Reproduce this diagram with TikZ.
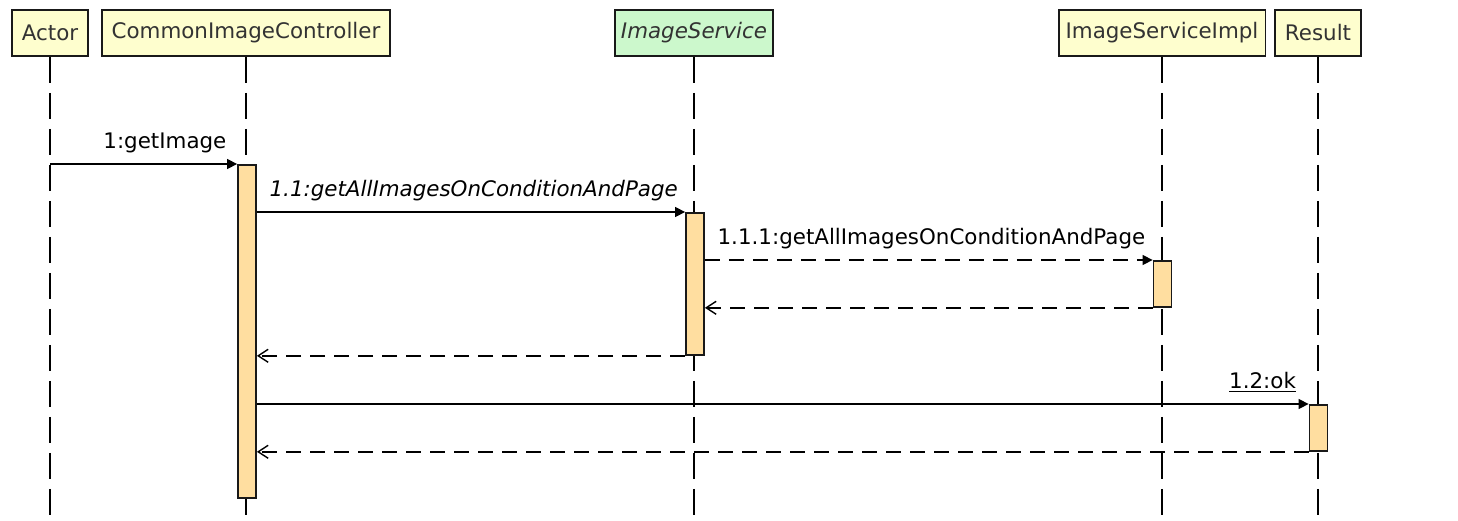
\documentclass[tikz,border=0pt]{standalone}
\usepackage{fontspec}
\setmainfont{DejaVu Sans}
\usepackage{xcolor}
\usetikzlibrary{arrows.meta, positioning}
\definecolor{headfill}{HTML}{FEFECE}
\definecolor{ifacefill}{HTML}{CCF8CC}
\definecolor{barfill}{HTML}{FFDEA0}
\definecolor{ink}{HTML}{333333}

\begin{document}
\begin{tikzpicture}[x=0.5pt, y=-0.5pt,
    head/.style={draw=black!90, line width=0.9pt, fill=headfill, text=ink,
        minimum height=23pt, inner xsep=5pt, font=\fontsize{10.7}{13}\selectfont},
    life/.style={line width=0.9pt, dash pattern=on 13pt off 5pt},
    bar/.style={draw=black!90, line width=0.9pt, fill=barfill, minimum width=9pt,
        inner sep=0pt, anchor=north},
    call/.style={line width=0.7pt, -{Triangle[length=5pt,width=5pt]}},
    dcall/.style={call, dash pattern=on 7.5pt off 4.5pt},
    ret/.style={line width=0.7pt, dash pattern=on 7.5pt off 4.5pt,
        -{Straight Barb[length=5pt,width=6.5pt]}},
    msg/.style={font=\fontsize{10.7}{13}\selectfont, inner sep=0pt}]
    \useasboundingbox (0,0) rectangle (1458,520);

    \node[head]                                (actor) at (50,33)   {Actor};
    \node[head]                                (ctrl)  at (246,33)  {CommonImageController};
    \node[head, fill=ifacefill, inner xsep=3pt, font=\fontsize{10.7}{13}\selectfont\itshape]
                                               (svc)   at (694,33)  {ImageService};
    \node[head, inner xsep=3.5pt]              (impl)  at (1162,33) {ImageServiceImpl};
    \node[head]                                (res)   at (1318,33) {Result};

    \coordinate (bot) at (0,515);
    \foreach \p in {actor, ctrl, svc, impl, res}
        \draw[life] (\p.south) -- (\p |- bot);

    \node[bar, minimum height=166.5pt] (ctrlbar) at (247,164)    {};
    \node[bar, minimum height=71pt]    (svcbar)  at (695,212)    {};
    \node[bar, minimum height=23pt]    (implbar) at (1162.5,260) {};
    \node[bar, minimum height=23pt]    (resbar)  at (1318.5,404) {};

    \draw
        (actor |- ctrlbar.north) edge[call] node[msg, pos=1, anchor=base east, xshift=-5pt, yshift=8pt]
            {1:getImage} (ctrlbar.north west)
        (ctrlbar.east |- svcbar.north) edge[call] node[msg, pos=0, anchor=base west, xshift=6pt, yshift=8pt]
            {\itshape 1.1:getAllImagesOnConditionAndPage} (svcbar.north west)
        (svcbar.east |- implbar.north) edge[dcall] node[msg, pos=0, anchor=base west, xshift=6pt, yshift=8pt]
            {1.1.1:getAllImagesOnConditionAndPage} (implbar.north west)
        (implbar.south west) edge[ret] (svcbar.east |- implbar.south)
        (svcbar.south west) edge[ret] (ctrlbar.east |- svcbar.south)
        (ctrlbar.east |- resbar.north) edge[call] node[msg, pos=1, anchor=base east, xshift=-6pt, yshift=8pt]
            {\underline{1.2:ok}} (resbar.north west)
        (resbar.south west) edge[ret] (ctrlbar.east |- resbar.south)
        ;
\end{tikzpicture}
\end{document}
